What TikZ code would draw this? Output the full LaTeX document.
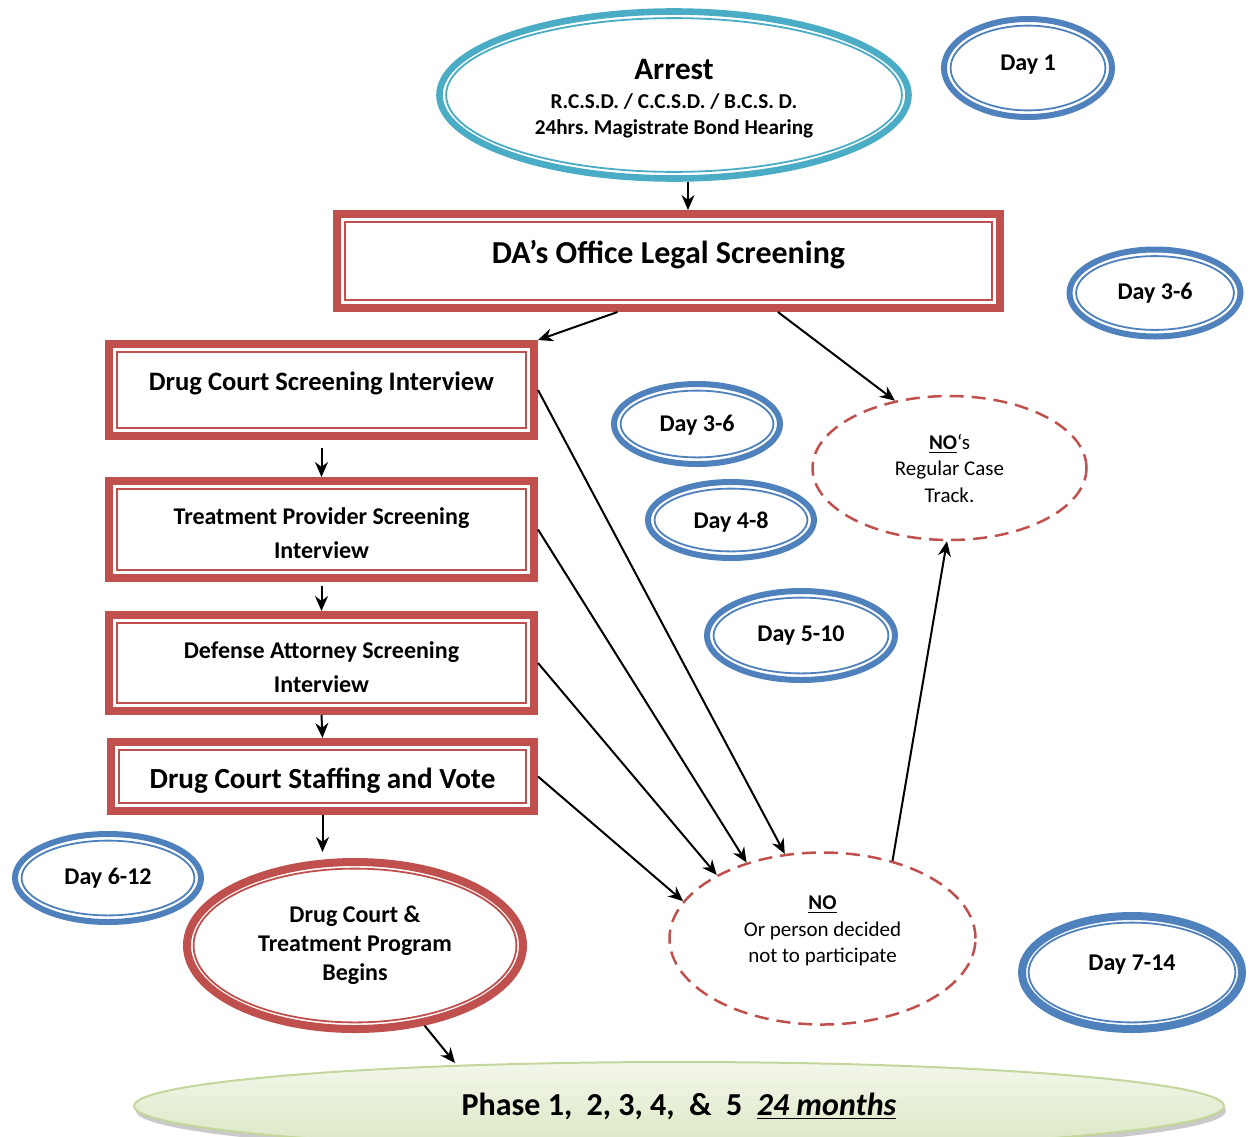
\documentclass[tikz,border=0pt]{standalone}
\usepackage{fontspec}
\setmainfont{Carlito}
\usetikzlibrary{shapes.geometric,calc,shadows,arrows.meta}
\definecolor{aqua}{HTML}{4BACC6}
\definecolor{brick}{HTML}{C0504D}
\definecolor{steel}{HTML}{4F81BD}
\definecolor{leaf}{HTML}{C3D69B}
\newcommand\setfs[2]{\fontsize{#1}{#2}\selectfont}
\frenchspacing
\tikzset{
	ringell/.style={ellipse, draw=#1, line width=3.3pt, fill=white, inner sep=0pt, align=center,
		path picture={\draw[#1, line width=0.9pt] let \p1=($(path picture bounding box.north east)-(path picture bounding box.center)$) in (path picture bounding box.center) ellipse [x radius=\x1-3.3pt, y radius=\y1-3.3pt];}},
	redbox/.style={rectangle, draw=brick, line width=4pt, fill=white, inner sep=0pt, align=center,
		path picture={\draw[brick, line width=1pt] ([shift={(4pt,4pt)}]path picture bounding box.south west) rectangle ([shift={(-4pt,-4pt)}]path picture bounding box.north east);}},
	dayring/.style={ringell=steel, line width=3pt, font=\setfs{12}{14}\bfseries},
	dashring/.style={ellipse, draw=brick, line width=1.25pt, dash pattern=on 7pt off 4pt, inner sep=0pt, align=center, font=\setfs{10.5}{13.25}},
	flow/.style={line width=1pt, -{Stealth[length=7.5pt,width=6.5pt]}}
}
\begin{document}
\begin{tikzpicture}[x=0.5pt,y=-0.5pt]
	\useasboundingbox (0,0) rectangle (1253,1136);

	\node[ringell=aqua, minimum width=234.5pt, minimum height=83.5pt, font=\setfs{10.6}{13}\bfseries, text height=39.8pt, text depth=0pt] (arrest) at (674,95)
		{{\setfs{15.6}{16}Arrest}\\[1.5pt]R.C.S.D. / C.C.S.D. / B.C.S. D.\\24hrs. Magistrate Bond Hearing};
	\node[redbox, minimum width=331.5pt, minimum height=47pt, font=\setfs{16}{19}\bfseries, text height=12pt, text depth=9.7pt] (da) at (668.5,261) {DA’s Office Legal Screening};

	\node[redbox, minimum width=212.5pt, minimum height=46pt, font=\setfs{13.3}{16}\bfseries, text height=10pt, text depth=10pt] (dcsi) at (321.5,390) {Drug Court Screening Interview};
	\node[redbox, minimum width=212.5pt, minimum height=48.5pt, font=\setfs{12}{17}\bfseries, text height=29.4pt, text depth=0pt] (treat) at (321.5,529.5) {Treatment Provider Screening\\Interview};
	\node[redbox, minimum width=212.5pt, minimum height=48pt, font=\setfs{12}{17}\bfseries, text height=29.4pt, text depth=0pt] (def) at (321.5,663) {Defense Attorney Screening\\Interview};
	\node[redbox, minimum width=211.5pt, minimum height=34.5pt, font=\setfs{14.6}{17}\bfseries, text height=12.2pt, text depth=0pt] (staff) at (322.5,776.5) {Drug Court Staffing and Vote};
	\node[ringell=brick, line width=4pt, minimum width=168pt, minimum height=83.5pt, font=\setfs{12}{14.5}\bfseries] (dctp) at (355,945.5) {Drug Court \&\\Treatment Program\\Begins};

	\node[dayring, minimum width=84pt, minimum height=49pt, text height=8.6pt, text depth=5.8pt] (day1) at (1028,68) {Day 1};
	\node[dayring, minimum width=85.5pt, minimum height=43.5pt] (day36r) at (1155,293) {Day 3-6};
	\node[dayring, minimum width=83pt, minimum height=40pt, text depth=1pt] (day36m) at (697,424) {Day 3-6};
	\node[dayring, minimum width=83pt, minimum height=38pt, text depth=0pt] (day48) at (731,520) {Day 4-8};
	\node[dayring, minimum width=94pt, minimum height=44.5pt] (day510) at (801,635.5) {Day 5-10};
	\node[dayring, minimum width=93pt, minimum height=44pt] (day612) at (108,878) {Day 6-12};
	\node[dayring, line width=4pt, minimum width=110pt, minimum height=56.5pt, text height=8.6pt, text depth=10.8pt] (day714) at (1132,972.5) {Day 7-14};

	\node[dashring, minimum width=137pt, minimum height=72pt] (nos) at (949.5,468) {\textbf{\underline{NO}}‘s\\Regular Case\\Track.};
	\node[dashring, minimum width=153pt, minimum height=86pt, text depth=9.3pt] (no) at (822.5,938.5) {\textbf{\underline{NO}}\\Or person decided\\not to participate};

	\node[ellipse, draw=leaf, line width=1pt, top color=leaf!20, bottom color=leaf!60, minimum width=545pt, minimum height=44pt, inner sep=0pt,
		drop shadow={shadow xshift=1pt, shadow yshift=-2.5pt, fill=gray!70, opacity=0.6}, font=\setfs{16}{19}\bfseries] (phase) at (679,1106)
		{Phase 1,\ \ 2, 3, 4,\ \ \&\ \ 5\ \ \underline{\textit{24 months}}};

	\coordinate (drop) at ([xshift=7pt]arrest.south);
	\draw[flow] (drop) -- (drop |- da.north);
	\draw[flow] (da.225) -- (dcsi.north east);
	\draw[flow] (da.335) -- (nos.129);
	\draw[flow, shorten <=4pt] (dcsi.south) -- (treat.north);
	\draw[flow, shorten <=2pt] (treat.south) -- (def.north);
	\draw[flow] (def.south) -- (staff.north);
	\draw[flow, shorten >=3pt] (staff.south) -- (staff.south |- dctp.north);
	\draw[flow] (dctp.311) -- ([xshift=-112pt,yshift=-1pt]phase.north);
	\draw[flow] (dcsi.east) -- (no.114);
	\draw[flow] (treat.east) -- (no.135);
	\draw[flow] (def.east) -- (no.149);
	\draw[flow] (staff.east) -- (no.165);
	\draw[flow] (no.48) -- (nos.268);
\end{tikzpicture}
\end{document}
